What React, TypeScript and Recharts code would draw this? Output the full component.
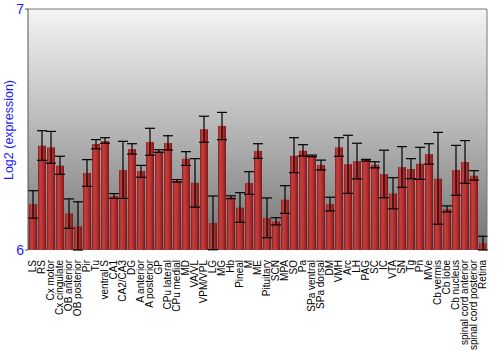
import { Bar, BarChart, CartesianGrid, ErrorBar, ReferenceLine, XAxis, YAxis } from 'recharts'

const regions = [
  'LS', 'RS', 'Cx motor', 'Cx cingulate', 'OB anterior', 'OB posterior', 'Pir', 'Tu',
  'ventral S', 'CA1', 'CA2/CA3', 'DG', 'A anterior', 'A posterior', 'GP', 'CPu lateral',
  'CPu medial', 'MD', 'VA/VL', 'VPM/VPL', 'LG', 'MG', 'Hb', 'Pineal', 'M', 'ME',
  'Pituitary', 'SCN', 'MPA', 'SO', 'Pa', 'SPa ventral', 'SPa dorsal', 'DM', 'VMH', 'Arc',
  'LH', 'PAG', 'SC', 'IC', 'VTA', 'SN', 'Tg', 'Pn', 'MVe', 'Cb vermis', 'Cb lobe',
  'Cb nucleus', 'spinal cord anterior', 'spinal cord posterior', 'Retina',
]

const expression = [
  6.19, 6.433, 6.426, 6.35, 6.152, 6.098, 6.32, 6.44,
  6.452, 6.224, 6.332, 6.419, 6.328, 6.448, 6.41, 6.444,
  6.286, 6.379, 6.279, 6.501, 6.112, 6.515, 6.219, 6.176, 6.278, 6.411,
  6.133, 6.119, 6.209, 6.391, 6.412, 6.39, 6.353, 6.191, 6.426, 6.356,
  6.369, 6.373, 6.354, 6.315, 6.235, 6.344, 6.336, 6.358, 6.398, 6.296, 6.17,
  6.332, 6.365, 6.308, 6.028,
]

const upper = [
  6.246, 6.495, 6.492, 6.389, 6.212, 6.2, 6.375, 6.458,
  6.466, 6.234, 6.451, 6.441, 6.351, 6.505, 6.416, 6.474,
  6.292, 6.408, 6.379, 6.555, 6.224, 6.571, 6.225, 6.238, 6.325, 6.441,
  6.216, 6.134, 6.267, 6.466, 6.437, 6.394, 6.373, 6.219, 6.466, 6.476,
  6.443, 6.376, 6.366, 6.414, 6.3, 6.429, 6.379, 6.426, 6.441, 6.488, 6.183,
  6.434, 6.454, 6.329, 6.057,
]

const lower = [
  6.132, 6.372, 6.36, 6.314, 6.09, 6.0, 6.264, 6.42,
  6.443, 6.214, 6.214, 6.398, 6.302, 6.393, 6.405, 6.415,
  6.282, 6.351, 6.178, 6.447, 6.001, 6.458, 6.213, 6.115, 6.231, 6.38,
  6.051, 6.104, 6.152, 6.321, 6.39, 6.387, 6.332, 6.162, 6.389, 6.235,
  6.295, 6.369, 6.341, 6.217, 6.171, 6.26, 6.296, 6.293, 6.356, 6.107, 6.158,
  6.227, 6.277, 6.29, 6.0,
]

const yTicks = [6, 7]

const data = regions.map((name, i) => ({
  name,
  value: expression[i],
  err: [expression[i] - lower[i], upper[i] - expression[i]],
}))

const blue = '#1a1aff'
const font = 'Liberation Sans, Arial, sans-serif'

const XTick = ({ x, y, payload }: any) => (
  <text
    x={x}
    y={y}
    transform={`rotate(-90, ${x}, ${y})`}
    textAnchor="end"
    dy={3.5}
    dx={-2}
    fontSize={10}
    fontFamily={font}
    fill="#000"
  >
    {payload.value}
  </text>
)

const YLabel = () => (
  <text
    x={13}
    y={130}
    transform="rotate(-90, 13, 130)"
    textAnchor="middle"
    fontSize={12.5}
    fontFamily={font}
    fill={blue}
  >
    Log2 (expression)
  </text>
)

export default function App() {
  return (
    <div style={{ position: 'absolute', left: 0, top: 0 }}>
      <BarChart
        width={500}
        height={350}
        data={data}
        margin={{ top: 9, right: 0, bottom: 0, left: 0 }}
        barSize={8}
      >
        <defs>
          <linearGradient id="bg" x1="0" y1="0" x2="0" y2="1">
            <stop offset="0%" stopColor="#f4f4f4" />
            <stop offset="45%" stopColor="#bdbdbd" />
            <stop offset="100%" stopColor="#727272" />
          </linearGradient>
          <linearGradient id="barFill" x1="0" y1="0" x2="1" y2="0">
            <stop offset="0%" stopColor="#8a1c1c" />
            <stop offset="25%" stopColor="#c24040" />
            <stop offset="60%" stopColor="#b63232" />
            <stop offset="100%" stopColor="#7e1717" />
          </linearGradient>
        </defs>
        <CartesianGrid horizontal={false} vertical={false} fill="url(#bg)" stroke="none" />
        <XAxis
          dataKey="name"
          interval={0}
          height={100}
          tick={<XTick />}
          tickLine={false}
          axisLine={false}
        />
        <YAxis
          yAxisId="left"
          domain={[6, 7]}
          ticks={yTicks}
          width={28}
          tickSize={3}
          tickMargin={1}
          axisLine={{ stroke: '#555' }}
          tickLine={{ stroke: '#555' }}
          tick={{ fill: blue, fontSize: 14, fontFamily: font }}
          label={{ content: () => <YLabel /> }}
        />
        <YAxis
          yAxisId="right"
          orientation="right"
          domain={[6, 7]}
          ticks={yTicks}
          width={13}
          tickSize={2}
          tickMargin={1}
          axisLine={{ stroke: '#777' }}
          tickLine={{ stroke: '#777' }}
          tick={{ fill: blue, fontSize: 14, fontFamily: font, textAnchor: 'start' }}
        />
        <ReferenceLine yAxisId="left" y={7} stroke="#777" />
        <Bar yAxisId="left" dataKey="value" fill="url(#barFill)" isAnimationActive={false}>
          <ErrorBar dataKey="err" width={5} stroke="#000" strokeWidth={1.2} />
        </Bar>
      </BarChart>
    </div>
  )
}
